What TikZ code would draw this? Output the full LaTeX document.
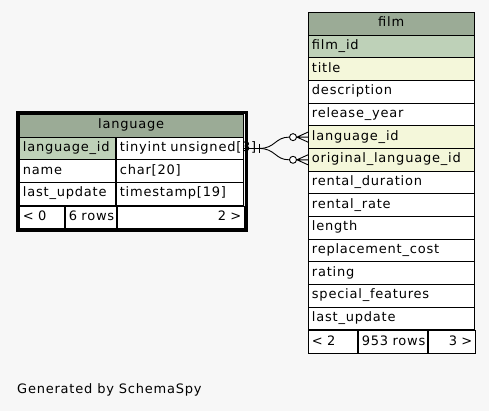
\documentclass[tikz,border=0pt]{standalone}
\usepackage{fontspec}
\setmainfont{DejaVu Sans}[LetterSpace=6]
\usepackage{tikz}
\definecolor{headbg}{HTML}{9BAB96}
\definecolor{keybg}{HTML}{BED1B8}
\definecolor{idxbg}{HTML}{F4F7DA}
\definecolor{pagebg}{HTML}{F7F7F7}
\tikzset{
	cell/.style={draw, fill=white, line width=0.9pt, anchor=north west, minimum height=22.67pt, inner xsep=3.5pt, inner ysep=0pt, text height=9pt, text depth=3pt, align=left},
	head/.style={cell, fill=headbg, align=center},
	optional/.style={circle, draw, line width=0.9pt, fill=white, minimum size=7pt, inner sep=0pt},
	rel/.style={line width=0.9pt}
}
\newcommand*{\rh}{22.67}

\begin{document}
\begin{tikzpicture}[x=1pt, y=-1pt, font=\fontsize{13}{15}\selectfont]
	\fill[pagebg](0, 0)rectangle(489, 411);
	\useasboundingbox(0, 0)rectangle(489, 411);
	\node[head, text width=158.5pt](film)at(308, 12){film};
	\foreach \t/\c[count=\i] in {film\_id/keybg, title/idxbg, description/white, release\_year/white, language\_id/idxbg, original\_language\_id/idxbg, rental\_duration/white, rental\_rate/white, length/white, replacement\_cost/white, rating/white, special\_features/white, last\_update/white}
		\node[cell, fill=\c, text width=158.5pt](film-\i)at(308, 12+\rh*\i){\t};
	\node[cell, text width=42pt](film-prev)at(film-13.south west){< 2};
	\node[cell, text width=62pt](film-rows)at(film-prev.north east){\mbox{953 rows}};
	\node[cell, text width=40.5pt, align=right](film-next)at(film-rows.north east){3 >};
	\node[head, text width=216.5pt](language)at(19, 114){language};
	\foreach \n/\t/\c[count=\i] in {language\_id/tinyint unsigned[3]/keybg, name/char[20]/white, last\_update/timestamp[19]/white}{
		\node[cell, fill=\c, text width=89pt](language-\i)at(19, 114+\rh*\i){\n};
		\node[cell, text width=120.5pt](type-\i)at(language-\i.north east){\mbox{\t}};
	}
	\node[cell, text width=38pt](language-prev)at(language-3.south west){< 0};
	\node[cell, text width=44pt](language-rows)at(language-prev.north east){\mbox{6 rows}};
	\node[cell, text width=120.5pt, align=right](language-next)at(language-rows.north east){2 >};
	\draw[line width=3.2pt]([shift={(-1.6, -1.6)}]language.north west)rectangle([shift={(1.6, 1.6)}]language-next.south east);
	\coordinate(tee)at([xshift=15pt]type-1.east);
	\draw[rel](type-1.east)--(tee);
	\draw[rel]([yshift=4.5pt]tee)--([yshift=-4.5pt]tee);
	\foreach \j/\r in {1/5, 2/6}{
		\node[optional](opt-\j)at([xshift=-15pt]film-\r.west){};
		\draw[rel](tee)..controls +(16, 0) and +(-14, 0)..(opt-\j.west);
		\draw[rel]([yshift=5pt]film-\r.west)--(opt-\j.east)--([yshift=-5pt]film-\r.west) (opt-\j.east)--(film-\r.west);
	}
	\node[anchor=base west, inner sep=0pt](credit)at(17, 393){Generated by SchemaSpy};
\end{tikzpicture}
\end{document}
